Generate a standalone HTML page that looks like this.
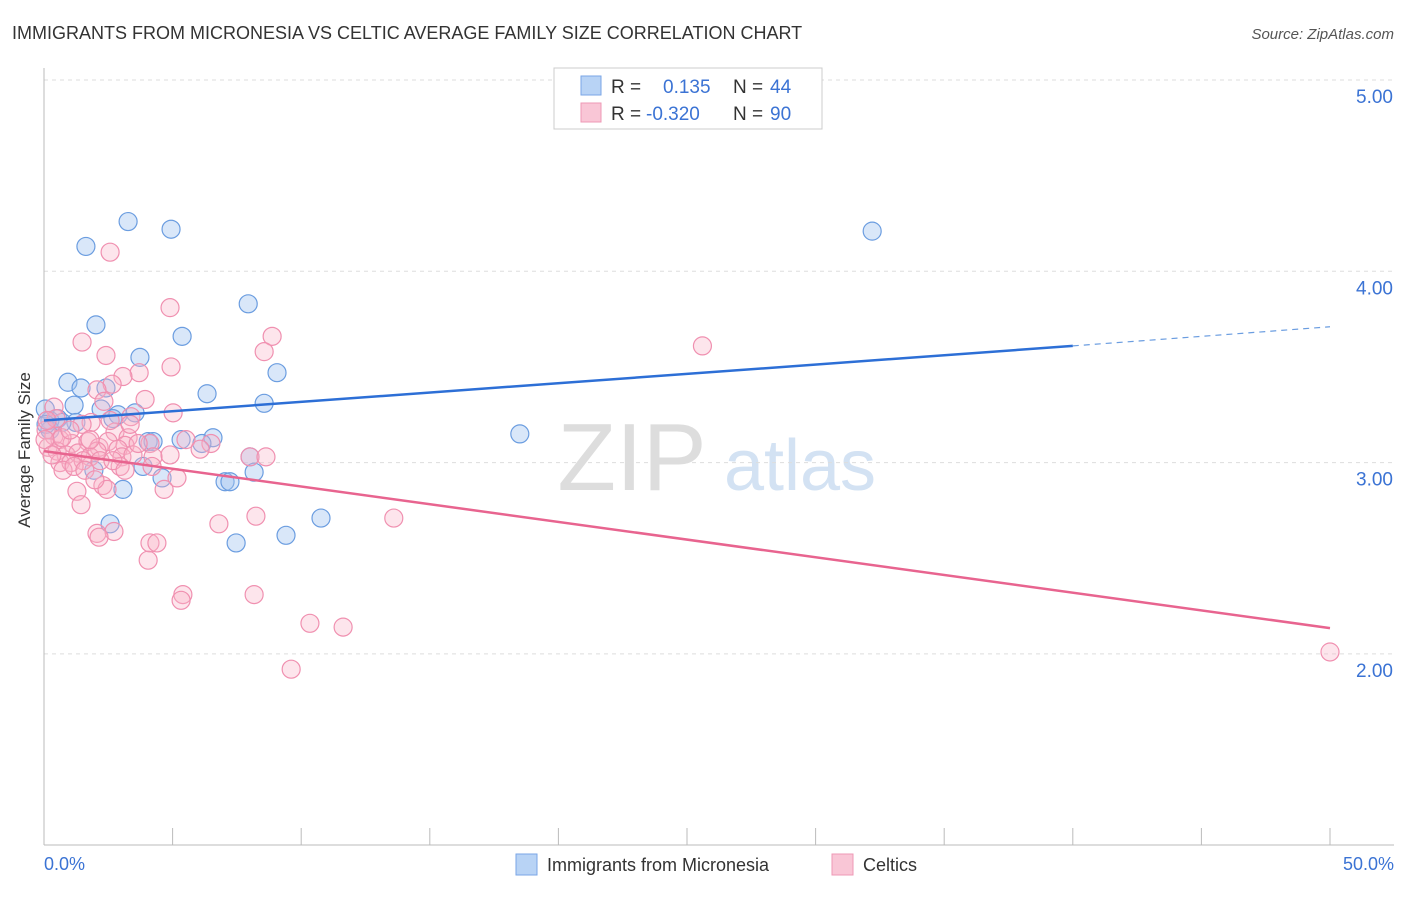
<!DOCTYPE html>
<html><head><meta charset="utf-8"><style>
body{margin:0;background:#fff;font-family:"Liberation Sans",sans-serif;}
svg text{font-family:"Liberation Sans",sans-serif;}
</style></head><body>
<svg width="1406" height="892" viewBox="0 0 1406 892" id="chart">
<text x="12" y="39" font-size="18" fill="#333">IMMIGRANTS FROM MICRONESIA VS CELTIC AVERAGE FAMILY SIZE CORRELATION CHART</text>
<text x="1394" y="39" font-size="15" fill="#555" font-style="italic" text-anchor="end">Source: ZipAtlas.com</text>
<text x="632" y="490" font-size="96" fill="#ddd" font-family="Liberation Serif" text-anchor="middle">ZIP</text>
<text x="800" y="490" font-size="72" fill="#d3e2f3" text-anchor="middle">atlas</text>
<g id="grid"></g><g id="axes"></g><g id="pts"></g><g id="lines"></g>
<text x="36" y="456" font-size="17" fill="#333" text-anchor="middle" transform="rotate(-90 30 456)">Average Family Size</text>
<text x="44" y="870" font-size="18" fill="#3b73d4">0.0%</text>
<text x="1394" y="870" font-size="18" fill="#3b73d4" text-anchor="end">50.0%</text>
<g>
<rect x="554" y="68" width="268" height="61" fill="#fff" stroke="#ccc"/>
<rect x="581" y="76" width="20" height="19" fill="#b8d3f5" stroke="#7aa6e6"/>
<rect x="581" y="103" width="20" height="19" fill="#f9c6d6" stroke="#ee98b5"/>
<text x="611" y="93" font-size="19" fill="#333">R = </text><text x="663" y="93" font-size="19" fill="#3b73d4">0.135</text>
<text x="733" y="93" font-size="19" fill="#333">N = </text><text x="770" y="93" font-size="19" fill="#3b73d4">44</text>
<text x="611" y="120" font-size="19" fill="#333">R = </text><text x="646" y="120" font-size="19" fill="#3b73d4">-0.320</text>
<text x="733" y="120" font-size="19" fill="#333">N = </text><text x="770" y="120" font-size="19" fill="#3b73d4">90</text>
</g>
<g>
<rect x="516" y="854" width="21" height="21" fill="#b8d3f5" stroke="#7aa6e6"/>
<text x="547" y="871" font-size="18" fill="#333">Immigrants from Micronesia</text>
<rect x="832" y="854" width="21" height="21" fill="#f9c6d6" stroke="#ee98b5"/>
<text x="863" y="871" font-size="18" fill="#333">Celtics</text>
</g>
</svg>
<script>
const yTicks=[2,3,4,5];
const yTickLabels=["2.00","3.00","4.00","5.00"];
const blueX=[3.27,4.94,1.63,32.2,7.94,2.02,5.37,3.73,9.06,0.93,1.44,2.41,6.34,8.56,1.17,2.22,2.88,3.54,0.54,0.23,1.24,2.68,0.05,18.5,6.57,4.05,4.24,5.33,6.14,8.01,3.85,1.94,8.17,4.59,7.04,7.23,3.07,2.57,10.77,7.47,9.41,0.23,0.08,0.70];
const blueY=[4.26,4.22,4.13,4.21,3.83,3.72,3.66,3.55,3.47,3.42,3.39,3.39,3.36,3.31,3.30,3.28,3.25,3.26,3.23,3.22,3.21,3.23,3.28,3.15,3.13,3.11,3.11,3.12,3.10,3.03,2.98,2.96,2.95,2.92,2.90,2.90,2.86,2.68,2.71,2.58,2.62,3.17,3.20,3.21];
const pinkX=[2.57,4.90,1.48,2.41,8.87,8.56,25.6,4.94,3.70,3.07,2.65,2.06,2.33,3.93,0.39,5.02,3.38,1.83,1.48,2.76,3.27,0.39,0.08,0.62,1.09,1.71,2.14,2.49,3.15,4.12,5.52,6.49,8.01,8.63,0.16,0.51,0.86,1.32,1.79,2.06,2.88,3.03,3.46,4.24,0.62,1.05,1.52,2.18,2.96,0.74,1.17,4.20,5.17,2.29,2.45,4.67,1.28,1.44,6.80,8.24,13.6,2.72,2.06,2.14,4.12,4.39,4.05,5.40,5.33,8.17,10.34,11.63,9.61,50,0.47,0.12,0.70,1.79,2.68,3.66,1.01,1.59,3.15,0.04,0.31,2.57,1.98,3.35,4.90,6.07];
const pinkY=[4.10,3.81,3.63,3.56,3.66,3.58,3.61,3.50,3.47,3.45,3.41,3.38,3.32,3.33,3.29,3.26,3.24,3.21,3.20,3.16,3.13,3.14,3.17,3.12,3.10,3.11,3.08,3.11,3.09,3.10,3.12,3.10,3.03,3.03,3.08,3.06,3.04,3.05,3.03,3.06,3.07,3.03,3.04,3.03,3.00,3.00,3.01,3.01,2.98,2.96,2.98,2.98,2.92,2.88,2.86,2.86,2.85,2.78,2.68,2.72,2.71,2.64,2.63,2.61,2.58,2.58,2.49,2.31,2.28,2.31,2.16,2.14,1.92,2.01,3.23,3.22,3.13,3.12,3.01,3.10,3.17,2.96,2.96,3.12,3.04,3.22,2.91,3.20,3.04,3.07];
const blueTrend=[3.22,3.61,3.71]; // at x=0, 40, 50
const pinkTrend=[3.06,2.135]; // at x=0, 50
const sx=v=>44+v/50*1286;
const sy=v=>80+(5-v)*191.3;
const NS="http://www.w3.org/2000/svg";
function mk(p,t,a){const e=document.createElementNS(NS,t);for(const k in a)e.setAttribute(k,a[k]);p.appendChild(e);return e;}
const grid=document.getElementById('grid'),axes=document.getElementById('axes'),pts=document.getElementById('pts'),lines=document.getElementById('lines');
yTicks.forEach((t,i)=>{
 const g=mk(grid,'line',{x1:44,x2:1394,y1:sy(t),y2:sy(t),stroke:'#ddd','stroke-dasharray':'4,4'});
 
 
 const l=mk(grid,'text',{x:1393,y:sy(t)+23,'font-size':19,fill:'#3b73d4','text-anchor':'end'});
 l.textContent=yTickLabels[i];
 
 
});
const ya=mk(axes,'line',{x1:44,x2:44,y1:68,y2:845,stroke:'#bbb'});


const xa=mk(axes,'line',{x1:44,x2:1394,y1:845,y2:845,stroke:'#bbb'});


for(let i=0;i<=10;i++){const t=mk(axes,'line',{x1:sx(i*5),x2:sx(i*5),y1:828,y2:845,stroke:'#bbb'});
 
 }
blueX.forEach((x,i)=>{const c=mk(pts,'circle',{cx:sx(x),cy:sy(blueY[i]),r:9,fill:'rgba(160,196,240,0.4)',stroke:'#6b9de0','stroke-width':1.2});
 
 });
pinkX.forEach((x,i)=>{const c=mk(pts,'circle',{cx:sx(x),cy:sy(pinkY[i]),r:9,fill:'rgba(248,180,200,0.35)',stroke:'#f090b0','stroke-width':1.2});
 
 });
const b1=mk(lines,'line',{x1:sx(0),y1:sy(blueTrend[0]),x2:sx(40),y2:sy(blueTrend[1]),stroke:'#2d6fd6','stroke-width':2.5});


const b2=mk(lines,'line',{x1:sx(40),y1:sy(blueTrend[1]),x2:sx(50),y2:sy(blueTrend[2]),stroke:'#6b9de0','stroke-width':1.2,'stroke-dasharray':'6,5'});


const p1=mk(lines,'line',{x1:sx(0),y1:sy(pinkTrend[0]),x2:sx(50),y2:sy(pinkTrend[1]),stroke:'#e8648f','stroke-width':2.5});


</script>
</body></html>
